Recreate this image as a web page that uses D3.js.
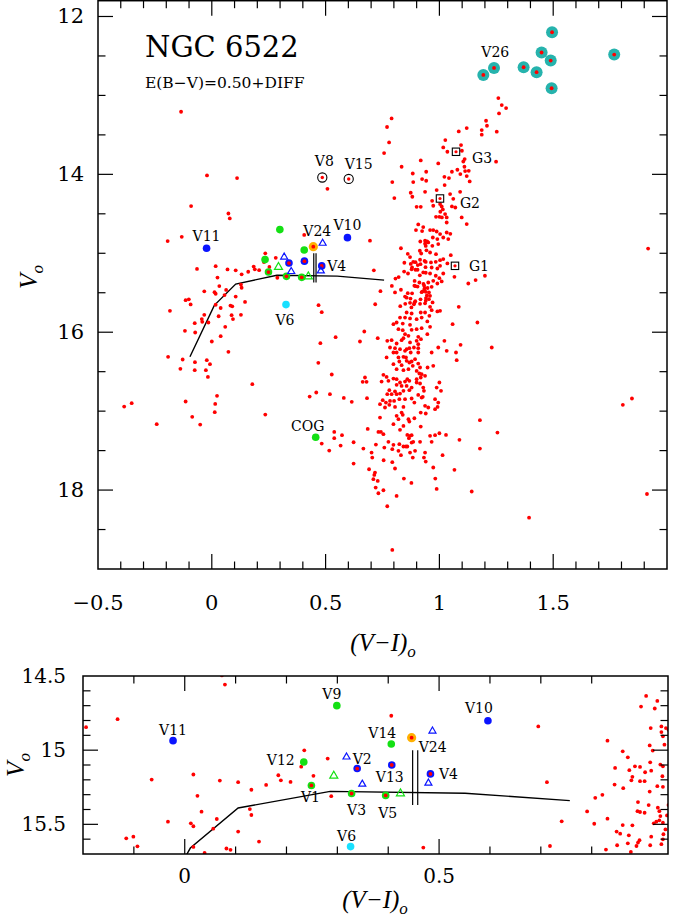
<!DOCTYPE html>
<html><head><meta charset="utf-8">
<script src="https://cdn.jsdelivr.net/npm/d3@7"></script>
<style>body{margin:0;background:#fff}svg{display:block}</style>
</head><body>
<script>
// field stars (V-I, V)
var field = [
 // HB / blue region and RGB lower part, read on the zoomed panel
 [0.079,14.558],[-0.132,14.791],[-0.194,14.845],[0.235,15.001],[0.281,15.057],[0.229,15.111],[0.253,15.173],[0.184,15.169],
 [0.189,15.203],[0.208,15.214],[-0.065,15.198],[0.017,15.164],[0.069,15.205],[0.105,15.216],[0.160,15.234],[0.131,15.267],
 [0.025,15.308],[0.288,15.310],[0.033,15.415],[0.128,15.397],[0.131,15.437],[0.063,15.464],[0.056,15.529],[0.012,15.493],
 [0.017,15.513],[-0.033,15.482],[0.105,15.549],[0.146,15.616],[-0.115,15.594],[-0.101,15.583],[-0.093,15.648],[0.017,15.652],
 [0.039,15.693],[0.082,15.663],[0.090,15.672],
 [0.406,14.768],[0.469,15.657],[0.695,14.840],[0.712,15.216],[0.741,15.480],[0.718,15.646],[0.791,15.413],[0.805,15.496],
 [0.807,15.321],[0.821,15.301],[0.831,14.936],[0.831,15.462],[0.828,15.670],[0.846,15.120],[0.845,15.232],[0.861,15.008],
 [0.862,15.256],[0.871,15.048],[0.874,15.135],[0.880,15.180],[0.878,15.203],[0.885,15.109],[0.895,15.113],[0.905,15.149],
 [0.895,15.209],[0.904,15.209],[0.907,14.634],[0.897,14.706],[0.929,14.668],[0.924,14.719],[0.916,14.851],[0.937,14.840],
 [0.946,14.851],[0.937,14.878],[0.940,14.907],[0.914,14.968],[0.943,14.963],[0.920,15.003],[0.915,15.082],[0.935,15.097],
 [0.940,15.109],[0.917,15.138],[0.939,15.176],[0.929,15.243],[0.940,15.247],[0.914,15.279],[0.891,15.350],[0.912,15.370],
 [0.890,15.411],[0.895,15.417],[0.904,15.422],[0.930,15.388],[0.933,15.411],[0.935,15.444],[0.948,15.440],[0.922,15.493],
 [0.927,15.482],[0.933,15.473],[0.940,15.489],[0.945,15.534],[0.941,15.567],[0.861,15.505],[0.880,15.507],[0.849,15.549],
 [0.856,15.563],[0.873,15.574],[0.894,15.607],[0.891,15.623],[0.917,15.583],[0.940,15.601],[0.850,15.641],[0.871,15.628],
 [0.888,15.646],[0.877,15.686],[0.915,15.641],[0.937,15.634],
 // blue side, faint part
 [0.779,13.596],[0.757,13.730],[-0.021,14.014],[0.111,14.047],[0.508,14.183],[0.793,14.098],[0.802,14.300],[-0.091,14.402],
 [0.073,14.496],[0.483,15.746],[-0.184,15.729],[-0.033,15.780],[0.087,15.784],[0.128,15.780],[0.030,15.798],[-0.135,13.207],
 [-0.044,15.834],[-0.042,15.868],[-0.075,15.885],[-0.015,15.877],[0.093,15.834],[0.059,15.932],[-0.118,15.983],[-0.073,16.004],
 [0.039,16.050],[0.000,16.118],[0.073,16.249],[-0.192,16.312],[-0.128,16.346],[-0.074,16.380],[-0.022,16.354],[-0.008,16.405],
 [-0.138,16.464],[-0.075,16.481],[-0.026,16.481],[-0.017,16.566],[0.178,16.658],[0.023,16.806],[0.015,16.908],[0.013,17.013],
 [-0.115,16.878],[-0.086,17.072],[-0.051,17.170],[-0.242,17.165],[-0.385,16.942],[-0.352,16.899],[0.235,17.043],[0.544,16.063],
 [0.477,16.139],[0.468,16.388],[0.527,16.536],[0.459,16.764],[0.430,16.815],[0.519,16.785],[0.580,16.832],[0.615,16.882],
 [0.538,17.263],[0.572,17.305],[0.538,17.343],[0.483,17.411],[0.566,17.436],[0.516,17.500],[0.623,17.394],[0.623,17.664],
 // upper RGB
 [1.259,13.034],[1.262,13.228],[1.205,13.321],[1.209,13.384],[1.186,13.439],[1.186,13.498],[1.252,13.460],[1.120,13.414],
 [1.085,13.456],[0.790,13.292],[0.770,13.400],[1.026,13.566],[1.017,13.659],[1.035,13.714],[1.095,13.629],[1.099,13.701],
 [1.111,13.806],[1.105,13.837],[1.110,13.904],[0.918,13.824],[0.995,13.862],[0.834,13.904],[0.883,13.989],[0.942,13.967],
 [0.924,14.060],[0.942,14.081],[0.885,14.098],[1.055,13.967],[1.079,13.942],[1.092,13.997],[1.113,13.959],[1.129,13.955],
 [1.120,14.022],[1.133,14.090],[1.022,14.031],[1.042,14.047],[1.023,14.136],[0.988,14.199],[0.874,14.233],[0.881,14.284],
 [0.937,14.221],[0.968,14.335],[0.973,14.398],[1.003,14.377],[1.010,14.407],[1.015,14.445],[1.004,14.474],[1.025,14.503],
 [1.011,14.546],[1.000,14.538],[0.985,14.538],[1.032,14.546],[1.047,14.250],[1.091,14.221],[1.061,14.310],[1.055,14.407],
 [1.070,14.420],[1.098,14.546],[1.120,14.630],[1.032,14.610],[0.900,14.411],[0.918,14.411],[1.249,13.840],[0.951,14.863],
 [0.959,14.706],[0.973,14.706],[0.988,14.724],[1.003,14.757],[0.971,14.800],[0.991,14.820],[0.969,14.905],[0.995,14.884],
 [1.032,14.737],[1.048,14.753],[1.017,14.800],[1.039,14.820],[1.274,13.122],[1.293,13.160],
 // RGB, V = 15 - 17
 [0.959,14.990],[0.985,15.011],[1.050,15.024],[0.963,15.116],[0.984,15.108],[1.003,15.087],[1.017,15.074],[1.035,15.129],
 [0.966,15.180],[0.991,15.193],[1.003,15.159],[0.959,15.256],[0.984,15.285],[1.000,15.315],[1.017,15.256],[0.951,15.370],
 [0.973,15.349],[0.991,15.383],[1.010,15.357],[0.966,15.425],[0.954,15.497],[0.959,15.539],[0.954,15.581],[0.970,15.623],
 [0.959,15.678],[1.066,15.298],[1.127,15.383],[1.159,15.340],[1.200,15.285],[1.085,15.678],
 [0.856,15.750],[0.878,15.763],[0.918,15.750],[0.937,15.750],[0.956,15.792],[0.991,15.737],[1.003,15.729],[0.966,15.721],
 [0.827,15.814],[0.849,15.814],[0.871,15.826],[0.900,15.835],[0.922,15.814],[0.947,15.864],[0.812,15.877],[0.839,15.890],
 [0.871,15.906],[0.798,15.898],[0.820,15.961],[0.839,15.974],[0.878,15.970],[0.900,15.961],[0.922,15.949],[0.959,15.932],
 [0.947,16.025],[0.849,16.025],[0.864,16.046],[0.907,16.059],[0.900,16.109],[0.919,16.088],[0.842,16.075],[0.834,16.101],
 [0.771,16.109],[0.790,16.101],[0.812,16.143],[0.871,16.130],[0.907,16.152],[0.783,16.194],[0.805,16.202],[0.827,16.215],
 [0.856,16.215],[0.868,16.202],[0.888,16.194],[0.907,16.202],[0.798,16.257],[0.812,16.257],[0.849,16.236],[0.874,16.257],
 [0.907,16.257],[0.768,16.320],[0.820,16.320],[0.842,16.312],[0.853,16.320],[0.893,16.342],[0.824,16.371],[0.856,16.363],
 [0.868,16.384],[0.878,16.371],[0.907,16.397],[0.798,16.405],[0.834,16.418],[0.883,16.426],[0.915,16.447],[0.812,16.468],
 [0.842,16.481],[0.864,16.468],[0.900,16.490],[0.912,16.523],[0.922,16.532],[0.754,16.540],[0.768,16.566],[0.798,16.587],
 [0.812,16.595],[0.859,16.595],[0.900,16.595],[0.918,16.574],[0.937,16.553],[0.746,16.625],[0.776,16.616],[0.827,16.637],
 [0.849,16.625],[0.868,16.616],[0.900,16.637],[0.915,16.650],[0.812,16.667],[0.834,16.680],[0.856,16.680],[0.878,16.701],
 [0.929,16.701],[0.780,16.735],[0.805,16.751],[0.842,16.743],[0.868,16.735],[0.907,16.794],[0.927,16.819],[0.932,16.743],
 [0.988,16.701],[1.000,16.637],[0.771,16.785],[0.790,16.785],[0.812,16.785],[0.827,16.777],[0.751,16.861],[0.765,16.891],
 [0.783,16.870],[0.801,16.870],[0.824,16.849],[0.849,16.849],[0.878,16.840],[0.890,16.891],[0.922,16.828],[0.780,16.920],
 [0.805,16.946],[0.842,16.946],[0.937,16.933],[0.951,16.954],[0.981,16.849],[0.995,16.891],[0.992,16.946],[0.739,16.912],
 [0.761,16.954],
 [1.167,15.877],[1.058,15.898],[1.022,16.109],[0.995,16.194],[1.032,16.236],[1.073,16.257],[1.093,16.160],[1.076,16.354],
 [1.230,16.194],[0.966,16.257],[0.973,16.426],[0.948,16.447],[0.673,16.574],[0.663,16.629],[0.680,16.629],[0.682,16.836],
 [1.007,16.743],[0.981,16.975],[0.670,15.991],[0.651,16.118],[0.729,16.075],
 // RGB, V > 17
 [0.739,17.081],[0.812,17.060],[0.834,17.018],[0.839,17.047],[0.820,17.102],[0.864,17.102],[0.868,17.132],[0.890,17.090],
 [0.918,17.018],[0.940,17.030],[0.798,17.165],[0.842,17.187],[0.918,17.195],[0.685,17.225],[0.732,17.263],[0.743,17.263],
 [0.754,17.292],[0.827,17.237],[0.859,17.301],[0.871,17.313],[0.878,17.305],[0.866,17.343],[0.776,17.389],[0.721,17.423],
 [0.798,17.427],[0.824,17.419],[0.842,17.448],[0.853,17.448],[0.859,17.448],[0.885,17.389],[0.878,17.398],[0.915,17.389],
 [0.966,17.389],[0.959,17.313],[0.981,17.305],[1.000,17.280],[1.029,17.301],[1.088,17.364],[1.178,17.115],[1.255,17.271],
 [1.178,17.474],[1.014,17.558],[0.937,17.525],[0.893,17.503],[0.871,17.525],[0.831,17.558],[0.820,17.503],[0.793,17.482],
 [0.758,17.461],[0.702,17.525],[0.666,17.474],[0.883,17.588],[0.932,17.588],[0.940,17.639],[0.705,17.588],[0.755,17.622],
 [0.793,17.647],[0.691,17.736],[0.717,17.778],[0.714,17.808],[0.710,17.862],[0.729,17.884],[0.720,17.968],[0.754,18.002],
 [0.732,18.040],[0.771,18.205],[0.805,17.727],[0.844,17.854],[0.877,17.909],[0.812,18.074],[0.973,17.714],[0.982,17.854],
 [0.988,17.985],[1.066,17.744],[1.142,18.018],[0.793,18.758],
 // red outliers
 [1.917,14.940],[1.846,16.840],[1.806,16.920],[1.912,18.050],[1.394,18.350]
];

// ZAHB line
var zahb = [[-0.096,16.31],[0.011,15.66],[0.105,15.39],[0.286,15.278],[0.551,15.29],[0.757,15.34]];
// the two vertical bars
var bars = [0.448, 0.458];
var barRange = [15.0, 15.37];

// variables: name, V-I, V, red centre
var greenVars = [["V9",0.299,14.70,0],["V14",0.406,14.958,0],["V12",0.234,15.08,0],
                 ["V1",0.249,15.238,1],["V3",0.328,15.292,1],["V5",0.395,15.305,1],["COG",0.4565,17.33,0]];
var blueVars = [["V11",-0.023,14.936,0],["V10",0.596,14.802,0],["V2",0.339,15.124,1],
                ["V13",0.407,15.10,1],["V4",0.483,15.16,1]];
var orangeVars = [["V24",0.446,14.916,1]];
var cyanVars = [["V6",0.326,15.65,0]];
var blueTri = [[0.487,14.869],[0.318,15.044],[0.349,15.227],[0.479,15.22]];
var greenTri = [[0.293,15.171],[0.424,15.29]];
var ringVars = [["V8",0.4855,14.04],["V15",0.6015,14.058]];
var giants = [["G1",1.0685,15.159],["G2",1.0026,14.306],["G3",1.073,13.714]];
var v26 = [[1.193,12.740],[1.240,12.652],[1.370,12.643],[1.427,12.706],[1.449,12.456],
           [1.489,12.558],[1.495,12.200],[1.493,12.909],[1.768,12.482]];

var upperXTicks = [-0.5, 0, 0.5, 1, 1.5];
var upperYTicks = [12, 14, 16, 18];
var lowerXTicks = [0, 0.5];
var lowerYTicks = [14.5, 15, 15.5];

// label offsets (px) per panel
var upperLab = {V26:[12,-23],V8:[2,-17],V15:[10,-15],V11:[0,-12],V10:[0,-13],V24:[4,-16],V4:[15,0],
                V6:[-1,15],COG:[-8,-11],G1:[24,0],G2:[30,5],G3:[26,6]};
var lowerLab = {V11:[0,-11],V9:[-5,-11.5],V12:[-23,-2],V1:[-1,12],V10:[-9,-13],V14:[-9,-11],V24:[21,9],
                V2:[5,-10],V13:[-2,12],V4:[18,0],V3:[5,17],V5:[2,18],V6:[-4,-11]};

var width = 685, height = 920;
var serif = "'DejaVu Serif', serif";
var RED = "#ff0000", GREEN = "#14e014", BLUE = "#0a14ff", CYAN = "#19e0ff", ORANGE = "#ffb000", TEAL = "#26b3ad";

var svg = d3.select("body").append("svg").attr("width", width).attr("height", height);

var xU = d3.scaleLinear().domain([-0.5, 2.0]).range([98, 667]);
var yU = d3.scaleLinear().domain([11.8, 19.0]).range([0.7, 569]);
var xL = d3.scaleLinear().domain([-0.2, 0.95]).range([83, 668]);
var yL = d3.scaleLinear().domain([14.5, 15.7]).range([676, 854]);

function fmt(v) { return (v < 0 ? "\u2212" : "") + Math.abs(v); }

function panel(id, x, y, xStep, xMajor, yStep, yMajor, lab) {
  var g = svg.append("g");
  var x0 = x.range()[0], x1 = x.range()[1], y0 = y.range()[0], y1 = y.range()[1];
  g.append("clipPath").attr("id", id).append("rect")
    .attr("x", x0).attr("y", y0).attr("width", x1 - x0).attr("height", y1 - y0);
  var c = g.append("g").attr("clip-path", "url(#" + id + ")");

  // ZAHB and bars
  c.append("path").attr("d", d3.line().x(d => x(d[0])).y(d => y(d[1]))(zahb))
    .attr("fill", "none").attr("stroke", "#000").attr("stroke-width", 1.4);
  bars.forEach(b => c.append("line").attr("x1", x(b)).attr("x2", x(b))
    .attr("y1", y(barRange[0])).attr("y2", y(barRange[1])).attr("stroke", "#000").attr("stroke-width", 1.2));

  // V26 group
  c.selectAll(".v26").data(v26).enter().append("circle")
    .attr("cx", d => x(d[0])).attr("cy", d => y(d[1])).attr("r", 6).attr("fill", TEAL);

  // field
  c.selectAll(".f").data(field.concat(v26)).enter().append("circle")
    .attr("cx", d => x(d[0])).attr("cy", d => y(d[1])).attr("r", 1.9).attr("fill", RED);

  function dots(arr, col, r) {
    arr.forEach(d => {
      c.append("circle").attr("cx", x(d[1])).attr("cy", y(d[2])).attr("r", r).attr("fill", col);
      if (d[3]) c.append("circle").attr("cx", x(d[1])).attr("cy", y(d[2])).attr("r", 1.9).attr("fill", RED);
    });
  }
  dots(greenVars, GREEN, 3.8);
  dots(blueVars, BLUE, 3.8);
  dots(cyanVars, CYAN, 3.8);
  dots(orangeVars, ORANGE, 4.6);

  function tri(arr, col, s) {
    arr.forEach(d => {
      var px = x(d[0]), py = y(d[1]), h = s * 0.866;
      c.append("path").attr("d", "M" + px + "," + (py - h * 0.62) + "L" + (px + s / 2) + "," + (py + h * 0.38) +
        "L" + (px - s / 2) + "," + (py + h * 0.38) + "Z")
        .attr("fill", "none").attr("stroke", col).attr("stroke-width", 1.2);
    });
  }
  tri(blueTri, BLUE, 7);
  tri(greenTri, GREEN, 8);

  ringVars.forEach(d => {
    c.append("circle").attr("cx", x(d[1])).attr("cy", y(d[2])).attr("r", 4.6)
      .attr("fill", "none").attr("stroke", "#000").attr("stroke-width", 1.1);
    c.append("circle").attr("cx", x(d[1])).attr("cy", y(d[2])).attr("r", 1.7).attr("fill", RED);
  });
  giants.forEach(d => {
    c.append("rect").attr("x", x(d[1]) - 3.7).attr("y", y(d[2]) - 3.7).attr("width", 7.4).attr("height", 7.4)
      .attr("fill", "none").attr("stroke", "#000").attr("stroke-width", 1.1);
    c.append("circle").attr("cx", x(d[1])).attr("cy", y(d[2])).attr("r", 1.6).attr("fill", RED);
  });

  // labels
  var named = greenVars.concat(blueVars, orangeVars, cyanVars, ringVars, giants, [["V26", v26[0][0], v26[0][1]]]);
  named.forEach(d => {
    var o = lab[d[0]];
    if (!o) return;
    c.append("text").attr("x", x(d[1]) + o[0]).attr("y", y(d[2]) + o[1])
      .attr("text-anchor", "middle").attr("dominant-baseline", "central")
      .style("font-family", serif).style("font-size", "14px").text(d[0]);
  });

  // frame and ticks
  g.append("rect").attr("x", x0).attr("y", y0).attr("width", x1 - x0).attr("height", y1 - y0)
    .attr("fill", "none").attr("stroke", "#000").attr("stroke-width", 1.5);
  var ax = g.append("g").attr("stroke", "#000").attr("stroke-width", 1.2);
  var xd = x.domain(), yd = y.domain();
  var nx = Math.round((xd[1] - xd[0]) / xStep);
  for (var i = 1; i < nx; i++) {
    var v = xd[0] + i * xStep, maj = Math.abs(v / xMajor - Math.round(v / xMajor)) < 1e-6;
    var L = maj ? 15 : 7.5;
    ax.append("line").attr("x1", x(v)).attr("x2", x(v)).attr("y1", y1).attr("y2", y1 - L);
    ax.append("line").attr("x1", x(v)).attr("x2", x(v)).attr("y1", y0).attr("y2", y0 + L);
  }
  var ys0 = Math.ceil(yd[0] / yStep - 1e-6) * yStep;
  for (var v = ys0; v < yd[1] - 1e-6; v += yStep) {
    if (v <= yd[0] + 1e-6) continue;
    var maj = Math.abs(v / yMajor - Math.round(v / yMajor)) < 1e-6;
    var L = maj ? 15 : 7.5;
    ax.append("line").attr("y1", y(v)).attr("y2", y(v)).attr("x1", x0).attr("x2", x0 + L);
    ax.append("line").attr("y1", y(v)).attr("y2", y(v)).attr("x1", x1).attr("x2", x1 - L);
  }
  return g;
}

var gU = panel("clipU", xU, yU, 0.1, 0.5, 0.5, 2, upperLab);
var gL = panel("clipL", xL, yL, 0.1, 0.5, 0.1, 0.5, lowerLab);

// tick labels
gU.selectAll(".xt").data(upperXTicks).enter().append("text")
  .attr("x", d => xU(d)).attr("y", 610).attr("text-anchor", "middle")
  .style("font-family", serif).style("font-size", "21px").text(fmt);
gU.selectAll(".yt").data(upperYTicks).enter().append("text")
  .attr("x", 84).attr("y", d => yU(d)).attr("text-anchor", "end").attr("dominant-baseline", "central")
  .style("font-family", serif).style("font-size", "21px").text(fmt);
gL.selectAll(".xt").data(lowerXTicks).enter().append("text")
  .attr("x", d => xL(d)).attr("y", 883).attr("text-anchor", "middle")
  .style("font-family", serif).style("font-size", "20px").text(fmt);
gL.selectAll(".yt").data(lowerYTicks).enter().append("text")
  .attr("x", 66).attr("y", d => yL(d)).attr("text-anchor", "end").attr("dominant-baseline", "central")
  .style("font-family", serif).style("font-size", "20px").text(fmt);

// axis titles
function xTitle(cx, by) {
  var t = svg.append("text").attr("x", cx).attr("y", by).attr("text-anchor", "middle")
    .style("font-family", "'Liberation Serif', serif").style("font-style", "italic").style("font-size", "25px");
  t.append("tspan").text("(V\u2212I)");
  t.append("tspan").attr("dy", 6).style("font-size", "17px").text("o");
}
function yTitle(bx, cy) {
  var t = svg.append("text").attr("transform", "translate(" + bx + "," + cy + ") rotate(-90)")
    .attr("text-anchor", "middle")
    .style("font-family", "'Liberation Serif', serif").style("font-style", "italic").style("font-size", "25px");
  t.append("tspan").text("V");
  t.append("tspan").attr("dy", 6).style("font-size", "17px").text("o");
}
xTitle(383, 651);
xTitle(375, 908);
yTitle(37, 277);
yTitle(24, 765);

// title
svg.append("text").attr("x", 145).attr("y", 57).style("font-family", serif).style("font-size", "29px").text("NGC 6522");
svg.append("text").attr("x", 145).attr("y", 88).style("font-family", serif).style("font-size", "15.5px").text("E(B\u2212V)=0.50+DIFF");
</script>
</body></html>
